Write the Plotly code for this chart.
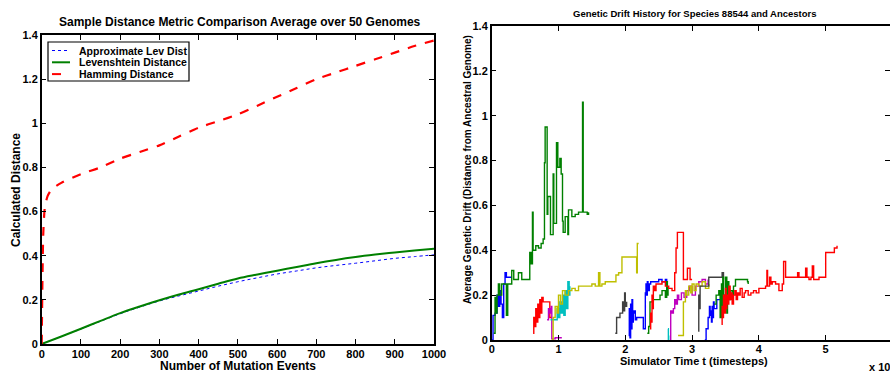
import plotly.graph_objects as go

W, H = 890, 372

# ---------------- Left chart data ----------------
mut_x = [0, 50, 100, 150, 200, 250, 300, 350, 400, 450, 500, 550, 600, 650, 700, 750, 800, 850, 900, 950, 1000]
lev_dist = [0, 0.034, 0.069, 0.105, 0.14, 0.17, 0.198, 0.224, 0.248, 0.273, 0.297, 0.315, 0.332,
            0.349, 0.366, 0.381, 0.394, 0.405, 0.415, 0.424, 0.432]
approx_lev = [0, 0.034, 0.068, 0.103, 0.137, 0.167, 0.195, 0.218, 0.24, 0.262, 0.282, 0.3, 0.317,
              0.331, 0.345, 0.356, 0.366, 0.377, 0.388, 0.396, 0.404]
ham_x = [0, 2, 4, 8, 15, 25, 50, 100, 150, 200, 250, 300, 350, 400, 450, 500,
         550, 600, 650, 700, 750, 800, 850, 900, 950, 1000]
ham_dist = [0, 0.3, 0.5, 0.62, 0.67, 0.7, 0.73, 0.77, 0.8, 0.84, 0.87, 0.9, 0.94,
            0.98, 1.01, 1.04, 1.08, 1.12, 1.16, 1.2, 1.23, 1.26, 1.29, 1.32, 1.35, 1.375]
left_ticks_x = [0, 100, 200, 300, 400, 500, 600, 700, 800, 900, 1000]
y_ticks = [0, 0.2, 0.4, 0.6, 0.8, 1, 1.2, 1.4]

# ---------------- Right chart data (time in units of 10^4 timesteps) ----------------
blue1_t = [0, 0.02, 0.05, 0.08, 0.1, 0.12, 0.14, 0.16, 0.18, 0.2, 0.22, 0.25, 0.3]
blue1_v = [0, 0.11, 0.12, 0.2, 0.15, 0.22, 0.16, 0.1, 0.25, 0.3, 0.28, 0.28, 0.28]

green1_t = [0.03, 0.05, 0.07, 0.08, 0.1, 0.12, 0.15, 0.2, 0.22, 0.24, 0.3, 0.33, 0.4, 0.45,
            0.55, 0.57, 0.59, 0.61, 0.62, 0.66, 0.7, 0.74, 0.77, 0.79, 0.8, 0.83, 0.84,
            0.88, 0.92, 0.93, 0.97, 0.99, 1.02, 1.04, 1.06, 1.07, 1.1, 1.14, 1.15, 1.2,
            1.25, 1.3, 1.36, 1.37, 1.43, 1.45]
green1_v = [0.03, 0.19, 0.12, 0.2, 0.25, 0.2, 0.25, 0.25, 0.11, 0.25, 0.31, 0.27, 0.3, 0.27,
            0.27, 0.39, 0.34, 0.57, 0.4, 0.42, 0.41, 0.43, 0.45, 0.79, 0.95, 0.56, 0.64,
            0.47, 0.74, 0.52, 0.88, 0.77, 0.81, 0.74, 0.53, 0.48, 0.55, 0.47, 0.58, 0.55,
            0.56, 0.57, 1.06, 0.57, 0.56, 0.57]

red1_t = [0.62, 0.63, 0.65, 0.66, 0.68, 0.69, 0.71, 0.72, 0.74, 0.75, 0.77, 0.87, 0.9]
red1_v = [0.03, 0.1, 0.06, 0.14, 0.08, 0.16, 0.1, 0.18, 0.12, 0.19, 0.17, 0.1, 0.1]

magenta1_t = [0.83, 0.85, 0.87, 0.89, 0.9, 0.95, 1.05]
magenta1_v = [0.09, 0.14, 0.12, 0.15, 0.005, 0.01, 0.01]

cyan1_t = [0.88, 0.95, 0.98, 1.0, 1.02, 1.04, 1.06, 1.08, 1.1, 1.12, 1.14, 1.16, 1.17]
cyan1_v = [0.09, 0.09, 0.14, 0.1, 0.17, 0.12, 0.2, 0.11, 0.22, 0.14, 0.26, 0.2, 0.24]

yellow1_t = [0.9, 0.92, 0.95, 0.98, 1.0, 1.03, 1.06, 1.1, 1.15, 1.2, 1.25, 1.3, 1.4, 1.5,
             1.55, 1.6, 1.62, 1.65, 1.7, 1.8, 1.86, 1.9, 1.95, 2.05, 2.1, 2.17, 2.18, 2.2]
yellow1_v = [0.0, 0.1, 0.15, 0.12, 0.2, 0.16, 0.22, 0.2, 0.22, 0.23, 0.22, 0.24, 0.24, 0.25,
             0.24, 0.3, 0.24, 0.25, 0.26, 0.26, 0.29, 0.3, 0.37, 0.37, 0.37, 0.3, 0.43, 0.43]

gray1_t = [1.85, 1.87, 1.9, 1.92, 1.94, 1.96, 1.98, 1.99, 2.0, 2.02]
gray1_v = [0.03, 0.1, 0.1, 0.12, 0.12, 0.17, 0.13, 0.21, 0.15, 0.17]

blue2_t = [2.05, 2.06, 2.07, 2.08, 2.09, 2.1, 2.11, 2.12, 2.13, 2.15, 2.17, 2.25, 2.27, 2.3,
           2.31, 2.32, 2.33, 2.34, 2.36, 2.38, 2.45, 2.5, 2.55, 2.6, 2.62, 2.64]
blue2_v = [0.02, 0.14, 0.01, 0.16, 0.05, 0.18, 0.08, 0.12, 0.13, 0.09, 0.1, 0.1, 0.05, 0.21,
           0.25, 0.2, 0.26, 0.22, 0.25, 0.26, 0.26, 0.27, 0.26, 0.27, 0.26, 0.26]

green2_t = [2.33, 2.35, 2.37, 2.42, 2.48, 2.52, 2.55, 2.58, 2.6, 2.62, 2.63, 2.64]
green2_v = [0.03, 0.06, 0.17, 0.18, 0.18, 0.2, 0.22, 0.22, 0.19, 0.26, 0.2, 0.24]

red2_t = [2.37, 2.38, 2.39, 2.4, 2.41, 2.42, 2.44, 2.46, 2.55, 2.6, 2.65, 2.7, 2.74, 2.76,
          2.78, 2.87, 2.93, 2.97, 3.0]
red2_v = [0.05, 0.12, 0.08, 0.2, 0.14, 0.24, 0.22, 0.25, 0.26, 0.24, 0.23, 0.22, 0.3, 0.41,
          0.48, 0.27, 0.32, 0.27, 0.27]

cyan2_t = [2.64, 2.645, 2.65]
cyan2_v = [0.05, 0.0, 0.02]

magenta2_t = [2.67, 2.68, 2.7, 2.72, 2.74, 2.76, 2.78, 2.8, 2.84, 2.88, 2.92, 2.96, 3.0,
              3.05, 3.1, 3.15, 3.2, 3.24]
magenta2_v = [0.0, 0.13, 0.12, 0.14, 0.18, 0.16, 0.2, 0.18, 0.21, 0.19, 0.22, 0.24, 0.2,
              0.24, 0.26, 0.27, 0.25, 0.27]

yellow2_t = [2.79, 2.86, 2.87, 2.9, 2.92, 2.95, 2.98, 3.0, 3.03, 3.06, 3.1, 3.15, 3.2, 3.25]
yellow2_v = [0.02, 0.02, 0.17, 0.22, 0.2, 0.24, 0.21, 0.25, 0.22, 0.25, 0.24, 0.26, 0.23, 0.25]

gray2_t = [3.09, 3.1, 3.11, 3.12, 3.2, 3.25, 3.35, 3.4, 3.45, 3.47]
gray2_v = [0.04, 0.2, 0.14, 0.24, 0.24, 0.28, 0.28, 0.28, 0.3, 0.27]

blue3_t = [3.19, 3.21, 3.24, 3.26, 3.27, 3.28, 3.29, 3.3, 3.31, 3.32, 3.33, 3.37, 3.4, 3.43]
blue3_v = [0.0, 0.05, 0.1, 0.15, 0.11, 0.13, 0.08, 0.15, 0.1, 0.17, 0.14, 0.18, 0.18, 0.2]

green3_t = [3.33, 3.36, 3.4, 3.42, 3.44, 3.45, 3.46, 3.47, 3.48, 3.5, 3.52, 3.53, 3.55,
            3.57, 3.6, 3.62, 3.65, 3.7, 3.75, 3.8, 3.83, 3.84]
green3_v = [0.16, 0.2, 0.22, 0.1, 0.25, 0.12, 0.28, 0.15, 0.2, 0.28, 0.12, 0.26, 0.18,
            0.22, 0.2, 0.24, 0.27, 0.27, 0.27, 0.27, 0.26, 0.25]

red3_t = [3.44, 3.45, 3.46, 3.47, 3.48, 3.5, 3.51, 3.52, 3.54, 3.55, 3.57, 3.58, 3.6, 3.62,
          3.64, 3.66, 3.68, 3.7, 3.72, 3.75, 3.78, 3.8, 3.84, 3.88, 3.92, 3.96, 4.0, 4.05,
          4.1, 4.12, 4.13, 4.16, 4.18, 4.2, 4.25, 4.3, 4.35, 4.37, 4.4, 4.42, 4.5, 4.58,
          4.6, 4.62, 4.66, 4.7, 4.72, 4.75, 4.78, 4.8, 4.82, 4.9, 4.95, 5.0, 5.05, 5.13, 5.17]
red3_v = [0.07, 0.15, 0.1, 0.2, 0.12, 0.23, 0.14, 0.2, 0.16, 0.24, 0.18, 0.21, 0.16, 0.2,
          0.22, 0.18, 0.21, 0.2, 0.23, 0.19, 0.21, 0.22, 0.2, 0.21, 0.22, 0.21, 0.23, 0.23,
          0.24, 0.31, 0.24, 0.28, 0.25, 0.26, 0.25, 0.22, 0.25, 0.35, 0.28, 0.28, 0.28, 0.3,
          0.28, 0.28, 0.28, 0.32, 0.28, 0.27, 0.28, 0.33, 0.27, 0.28, 0.28, 0.39, 0.39, 0.41, 0.42]

right_ticks_x = [0, 1, 2, 3, 4, 5]

BLUE, GREEN, RED = "#0000ff", "#008000", "#ff0000"
CYAN, MAGENTA, YELLOW, GRAY = "#00bfbf", "#bf00bf", "#bfbf00", "#404040"

right_series = [
    (blue1_t, blue1_v, BLUE), (green1_t, green1_v, GREEN), (red1_t, red1_v, RED),
    (magenta1_t, magenta1_v, MAGENTA), (cyan1_t, cyan1_v, CYAN), (yellow1_t, yellow1_v, YELLOW),
    (gray1_t, gray1_v, GRAY), (blue2_t, blue2_v, BLUE), (green2_t, green2_v, GREEN),
    (red2_t, red2_v, RED), (cyan2_t, cyan2_v, CYAN), (magenta2_t, magenta2_v, MAGENTA),
    (yellow2_t, yellow2_v, YELLOW), (gray2_t, gray2_v, GRAY), (blue3_t, blue3_v, BLUE),
    (green3_t, green3_v, GREEN), (red3_t, red3_v, RED),
]

FONT = "Liberation Sans"


def px(x):
    return x / W


def py(y):
    return 1 - y / H


fig = go.Figure()

# left chart
fig.add_trace(go.Scatter(x=mut_x, y=approx_lev, mode="lines", line=dict(color=BLUE, width=1, dash="dot", shape="spline"),
                         xaxis="x", yaxis="y", showlegend=False))
fig.add_trace(go.Scatter(x=mut_x, y=lev_dist, mode="lines", line=dict(color=GREEN, width=2, shape="spline"),
                         xaxis="x", yaxis="y", showlegend=False))
fig.add_trace(go.Scatter(x=ham_x, y=ham_dist, mode="lines", line=dict(color=RED, width=2.2, dash="dash", shape="spline", smoothing=0.6),
                         xaxis="x", yaxis="y", showlegend=False))

# right chart
for t, v, c in right_series:
    fig.add_trace(go.Scatter(x=t, y=v, mode="lines", line=dict(color=c, width=1.4, shape="hv"),
                             xaxis="x2", yaxis="y2", showlegend=False))

axis_common = dict(
    showline=True, linecolor="black", linewidth=1.5, mirror="ticks", ticks="inside",
    ticklen=5, tickwidth=1, tickcolor="black", showgrid=False, zeroline=False, automargin=False,
    tickfont=dict(family=FONT, size=11, color="black", weight="bold"),
)

fig.update_layout(
    width=W, height=H, margin=dict(l=0, r=0, t=0, b=0, autoexpand=False),
    paper_bgcolor="white", plot_bgcolor="white",
    xaxis=dict(domain=[px(41.7), px(434)], range=[0, 1000], tickvals=left_ticks_x, anchor="y",
               ticklabelstandoff=-1, **axis_common),
    yaxis=dict(domain=[py(344), py(35)], range=[0, 1.4], tickvals=y_ticks, anchor="x", **axis_common),
    xaxis2=dict(domain=[px(491.7), 1.0], range=[0, 5.963], tickvals=right_ticks_x, anchor="y2",
                ticklabelstandoff=-2, **axis_common),
    yaxis2=dict(domain=[py(340), py(26)], range=[0, 1.4], tickvals=y_ticks, anchor="x2", **axis_common),
)

ann = []


def add_text(text, x, y, size, angle=0, xanchor="center", yanchor="middle"):
    ann.append(dict(text=text, x=px(x), y=py(y), xref="paper", yref="paper", showarrow=False,
                    xanchor=xanchor, yanchor=yanchor, textangle=angle,
                    font=dict(family=FONT, size=size, color="black", weight="bold")))


add_text("Sample Distance Metric Comparison Average over 50 Genomes", 240, 22, 12)
add_text("Number of Mutation Events", 238, 365.5, 12)
add_text("Calculated Distance", 16, 190, 12, angle=-90)
add_text("Genetic Drift History for Species 88544 and Ancestors", 695, 14, 9.5)
add_text("Simulator Time t (timesteps)", 694, 361, 11)
add_text("Average Genetic Drift (Distance from Ancestral Genome)", 467, 170, 10, angle=-90)
add_text("x 10<sup>4</sup>", 867, 366, 11, xanchor="left")

# legend (drawn manually to match the compact MATLAB legend box)
leg_rows = [("Approximate Lev Dist", BLUE, "dot", 1), ("Levenshtein Distance", GREEN, "solid", 2),
            ("Hamming Distance", RED, "dash", 2)]
shapes = [dict(type="rect", xref="paper", yref="paper", x0=px(48), x1=px(189), y0=py(81), y1=py(42),
               line=dict(color="black", width=1.2), fillcolor="white", layer="above")]
for i, (name, col, dash, wdt) in enumerate(leg_rows):
    yy = 50.5 + i * 11.8
    shapes.append(dict(type="line", xref="paper", yref="paper", x0=px(52), x1=px(70), y0=py(yy), y1=py(yy),
                       line=dict(color=col, width=wdt, dash=dash), layer="above"))
    add_text(name, 77, yy, 10.5, xanchor="left")

fig.update_layout(annotations=ann, shapes=shapes)

fig.write_html("out.html", config={"displayModeBar": False},
               post_script="document.body.style.margin='0';document.body.style.overflow='hidden';")
